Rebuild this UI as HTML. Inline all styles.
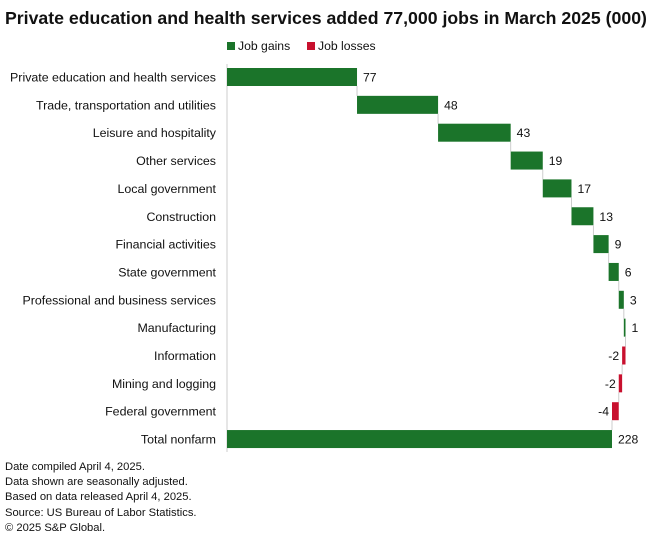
<!DOCTYPE html>
<html><head><meta charset="utf-8"><style>
body{margin:0;background:#fff;font-family:"Liberation Sans",sans-serif;}
svg text{font-family:"Liberation Sans",sans-serif;}
</style></head><body>
<svg id="c" width="660" height="545" xmlns="http://www.w3.org/2000/svg">
<text x="5" y="24" font-size="17.7" font-weight="bold" fill="#111">Private education and health services added 77,000 jobs in March 2025 (000)</text>
<g>
<rect x="227" y="42" width="8" height="8" fill="#1b742a"/>
<text x="238" y="50" font-size="12.2" fill="#111">Job gains</text>
<rect x="307" y="42" width="8" height="8" fill="#c8102e"/>
<text x="318" y="50" font-size="12.2" fill="#111">Job losses</text>
</g>
<line x1="227" y1="64" x2="227" y2="452" stroke="#ccc" stroke-width="1"/>
<g id="bars"></g>
<g font-size="11.2" fill="#111">
<text x="5" y="470">Date compiled April 4, 2025.</text>
<text x="5" y="485">Data shown are seasonally adjusted.</text>
<text x="5" y="500">Based on data released April 4, 2025.</text>
<text x="5" y="516">Source: US Bureau of Labor Statistics.</text>
<text x="5" y="531">© 2025 S&amp;P Global.</text>
</g>
</svg>
<script>
const categories=["Private education and health services","Trade, transportation and utilities","Leisure and hospitality","Other services","Local government","Construction","Financial activities","State government","Professional and business services","Manufacturing","Information","Mining and logging","Federal government","Total nonfarm"];
const values=[77,48,43,19,17,13,9,6,3,1,-2,-2,-4,228];
const isTotal=[false,false,false,false,false,false,false,false,false,false,false,false,false,true];
const NS="http://www.w3.org/2000/svg";
const x=v=>227+v*(385/228);
const y=i=>77+i*27.85;
const g=document.getElementById('bars');
function mk(t,a){const e=document.createElementNS(NS,t);for(const k in a)e.setAttribute(k,a[k]);g.appendChild(e);return e;}
let cum=0;
categories.forEach((c,i)=>{
  let s,e;
  if(isTotal[i]){s=0;e=values[i];}else{s=cum;e=cum+values[i];cum=e;}
  const cy=y(i);
  const lab=mk('text',{x:216,y:cy+4.5,'font-size':12.4,fill:'#111','text-anchor':'end'});
  lab.textContent=c;
  
  
  if(i>0&&!isTotal[i]){
    const ln=mk('line',{x1:x(s),x2:x(s),y1:y(i-1)+9,y2:cy-9,stroke:'#ccc','stroke-width':1});
    
    
  }
  if(isTotal[i]){
    const ln=mk('line',{x1:x(cum),x2:x(cum),y1:y(i-1)+9,y2:cy-9,stroke:'#ccc','stroke-width':1});
    
    
  }
  const lo=Math.min(x(s),x(e)),hi=Math.max(x(s),x(e));
  const r=mk('rect',{x:lo,y:cy-9,width:Math.max(hi-lo,1.5),height:18,fill:values[i]>=0?'#1b742a':'#c8102e'});
  
  
  const v=mk('text',{'font-size':12.2,fill:'#111',y:cy+4.5});
  if(values[i]>=0){v.setAttribute('x',hi+6);}else{v.setAttribute('x',lo-3);v.setAttribute('text-anchor','end');}
  v.textContent=values[i];
  
  
});
</script>
</body></html>
